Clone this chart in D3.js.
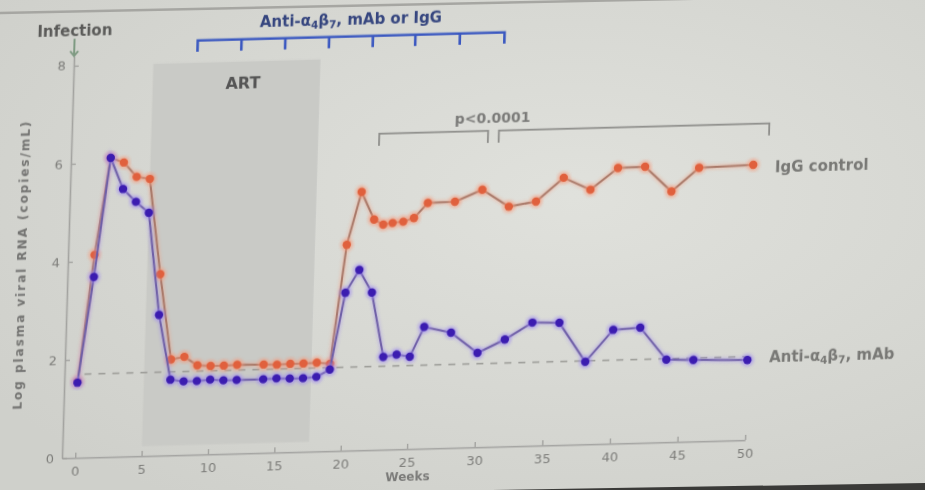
<!DOCTYPE html>
<html>
<head>
<meta charset="utf-8">
<script src="https://cdn.jsdelivr.net/npm/d3@7"></script>
<style>
  body { margin: 0; background: #d8d9d4; }
  svg { display: block; font-family: "DejaVu Sans", "Liberation Sans", sans-serif; }
</style>
</head>
<body>
<svg id="chart" width="925" height="490"></svg>
<script>
// weeks after infection, log10 plasma viral RNA
const iggWeeks = [0, 1, 2, 3, 4, 5, 6, 7, 8, 9, 10, 11, 12, 14, 15, 16, 17, 18, 19,
  20, 21, 22, 22.7, 23.4, 24.2, 25, 26, 28, 30, 32, 34, 36, 38, 40, 42, 44, 46, 50];
const iggValues = [1.55, 4.13, 6.1, 6.0, 5.7, 5.65, 3.7, 1.95, 2.0, 1.82, 1.8, 1.8, 1.81, 1.8, 1.79, 1.8, 1.8, 1.81, 1.78,
  4.2, 5.27, 4.7, 4.59, 4.62, 4.64, 4.71, 5.01, 5.02, 5.25, 4.89, 4.98, 5.45, 5.19, 5.62, 5.63, 5.11, 5.58, 5.61];

const mabWeeks = [0, 1, 2, 3, 4, 5, 6, 7, 8, 9, 10, 11, 12, 14, 15, 16, 17, 18, 19,
  20, 21, 22, 23, 24, 25, 26, 28, 30, 32, 34, 36, 38, 40, 42, 44, 46, 50];
const mabValues = [1.53, 3.68, 6.1, 5.46, 5.19, 4.96, 2.87, 1.54, 1.5, 1.5, 1.52, 1.5, 1.5, 1.5, 1.51, 1.5, 1.5, 1.52, 1.66,
  3.22, 3.68, 3.21, 1.89, 1.93, 1.88, 2.48, 2.35, 1.92, 2.18, 2.51, 2.49, 1.68, 2.32, 2.35, 1.68, 1.66, 1.63];

const detectionLimit = 1.7;
const artPeriod = [5, 17.6];
const infusionWeeks = [8.3, 11.6, 14.9, 18.2, 21.5, 24.7, 28, 31.3];
const pBrackets = [[22.2, 30.3], [31.1, 51.1]];

const weekTicks = [0, 5, 10, 15, 20, 25, 30, 35, 40, 45, 50];
const valueTicks = [0, 2, 4, 6, 8];

const svg = d3.select("#chart");
const defs = svg.append("defs");

// photo look: uneven light
const bg = defs.append("radialGradient").attr("id", "bg").attr("cx", "62%").attr("cy", "40%").attr("r", "75%");
bg.append("stop").attr("offset", "0%").attr("stop-color", "#e0e1dc");
bg.append("stop").attr("offset", "100%").attr("stop-color", "#cfd0cb");
defs.append("filter").attr("id", "soft").append("feGaussianBlur").attr("stdDeviation", 0.75);
defs.append("filter").attr("id", "glow")
  .attr("x", "-10%").attr("y", "-10%").attr("width", "120%").attr("height", "120%")
  .append("feGaussianBlur").attr("stdDeviation", 1.8);

svg.append("rect").attr("width", 925).attr("height", 490).attr("fill", "url(#bg)");
svg.append("path").attr("d", "M0,13 L925,-6").attr("stroke", "#a6a6a2").attr("stroke-width", 2.5).attr("fill", "none");
svg.append("path").attr("d", "M430,491 L925,483 L925,491 Z").attr("fill", "#3a3a38");

// the slide was photographed at an angle: shear the plot, and the week axis
// is a little stretched on the right
const plot = svg.append("g")
  .attr("transform", "matrix(1,-0.0265,-0.03,1,62,458)")
  .attr("filter", "url(#soft)");

const x = d3.scaleLinear().domain([-1, 0, 25, 50]).range([0, 13.2, 345, 683]);
const y = d3.scaleLinear().domain([0, 8.2]).range([0, -402]);

// ART shading
plot.append("rect")
  .attr("x", x(artPeriod[0]))
  .attr("y", y(8.0))
  .attr("width", x(artPeriod[1]) - x(artPeriod[0]))
  .attr("height", y(0.2) - y(8.0))
  .attr("fill", "#c9cac6");

plot.append("text")
  .attr("x", x(11.8)).attr("y", y(7.55))
  .attr("text-anchor", "middle").attr("dy", "0.35em")
  .attr("font-size", 16).attr("font-weight", "bold").attr("fill", "#555")
  .text("ART");

// axes
const xAxis = plot.append("g")
  .call(d3.axisBottom(x).tickValues(weekTicks).tickSizeInner(-5).tickSizeOuter(0).tickPadding(9));
const yAxis = plot.append("g")
  .call(d3.axisLeft(y).tickValues(valueTicks).tickSizeInner(-5).tickSizeOuter(0).tickPadding(8));
[xAxis, yAxis].forEach(a => {
  a.select(".domain").attr("stroke", "#a3a3a0").attr("stroke-width", 1.6);
  a.selectAll(".tick line").attr("stroke", "#a3a3a0").attr("stroke-width", 1.4);
  a.selectAll(".tick text").attr("fill", "#7d7d7a").attr("font-size", 13).attr("font-family", "DejaVu Sans");
});

plot.append("text")
  .attr("x", x(25.1)).attr("y", 32)
  .attr("text-anchor", "middle")
  .attr("font-size", 12).attr("font-weight", "bold").attr("fill", "#7a7a78")
  .text("Weeks");

plot.append("text")
  .attr("transform", `translate(-42,${y(3.95)}) rotate(-90)`)
  .attr("text-anchor", "middle")
  .attr("font-size", 12).attr("font-weight", "bold").attr("fill", "#727270")
  .attr("textLength", 288).attr("lengthAdjust", "spacing")
  .text("Log plasma viral RNA (copies/mL)");

// infection marker
plot.append("text")
  .attr("x", x(-1)).attr("y", y(8.72))
  .attr("text-anchor", "middle").attr("dy", "0.35em")
  .attr("font-size", 15).attr("font-weight", "bold").attr("fill", "#5a5a58")
  .text("Infection");
plot.append("path")
  .attr("d", `M${x(-1)},${y(8.55)} L${x(-1)},${y(8.2)} M${x(-1) - 4},${y(8.3)} L${x(-1)},${y(8.2)} L${x(-1) + 4},${y(8.3)}`)
  .attr("stroke", "#7e9a82").attr("stroke-width", 2).attr("fill", "none");

// infusion bracket
const infY = y(8.45), infTick = y(8.22);
plot.append("path")
  .attr("d", `M${x(infusionWeeks[0])},${infTick} L${x(infusionWeeks[0])},${infY} L${x(infusionWeeks[infusionWeeks.length - 1])},${infY} L${x(infusionWeeks[infusionWeeks.length - 1])},${infTick}`)
  .attr("stroke", "#3a58c0").attr("stroke-width", 2.6).attr("fill", "none");
plot.selectAll(".inf").data(infusionWeeks.slice(1, -1)).enter().append("line")
  .attr("x1", d => x(d)).attr("x2", d => x(d))
  .attr("y1", infY).attr("y2", infTick)
  .attr("stroke", "#3a58c0").attr("stroke-width", 2.6);

function antiLabel(sel, tail) {
  sel.append("tspan").text("Anti-α");
  sel.append("tspan").attr("font-size", "0.7em").attr("dy", "0.25em").text("4");
  sel.append("tspan").attr("dy", "-0.18em").text("β");
  sel.append("tspan").attr("font-size", "0.7em").attr("dy", "0.25em").text("7");
  sel.append("tspan").attr("dy", "-0.18em").text(tail);
}

plot.append("text")
  .attr("x", x(19.8)).attr("y", y(8.72))
  .attr("text-anchor", "middle").attr("dy", "0.1em")
  .attr("font-size", 15).attr("font-weight", "bold").attr("fill", "#34447e")
  .call(antiLabel, ", mAb or IgG");

// p-value brackets
const pY = y(6.45), pLeg = y(6.2);
plot.selectAll(".pb").data(pBrackets).enter().append("path")
  .attr("d", d => `M${x(d[0])},${pLeg} L${x(d[0])},${pY} L${x(d[1])},${pY} L${x(d[1])},${pLeg}`)
  .attr("stroke", "#8e8e8b").attr("stroke-width", 1.8).attr("fill", "none");
plot.append("text")
  .attr("x", x(30.6)).attr("y", y(6.72))
  .attr("text-anchor", "middle").attr("dy", "0.35em")
  .attr("font-size", 14).attr("font-weight", "bold").attr("fill", "#7a7a78")
  .text("p<0.0001");

// detection limit
plot.append("line")
  .attr("x1", x(0.5)).attr("x2", x(50))
  .attr("y1", y(detectionLimit)).attr("y2", y(detectionLimit))
  .attr("stroke", "#9a9a96").attr("stroke-width", 1.6).attr("stroke-dasharray", "7,7");

const series = [
  { weeks: iggWeeks, values: iggValues, line: "#a87868", dot: "#e0603c", halo: "#f59a7c" },
  { weeks: mabWeeks, values: mabValues, line: "#6e5ea6", dot: "#3b1db0", halo: "#9c88f0" }
];

const line = d3.line().x(d => x(d[0])).y(d => y(d[1]));

series.forEach(s => {
  const pts = s.weeks.map((w, i) => [w, s.values[i]]);
  plot.append("path").datum(pts)
    .attr("d", line)
    .attr("fill", "none").attr("stroke", s.halo).attr("stroke-width", 5).attr("opacity", 0.35)
    .attr("filter", "url(#glow)");
  plot.append("path").datum(pts)
    .attr("d", line)
    .attr("fill", "none").attr("stroke", s.line).attr("stroke-width", 2);
  plot.selectAll(null).data(pts).enter().append("circle")
    .attr("cx", d => x(d[0])).attr("cy", d => y(d[1])).attr("r", 6.5)
    .attr("fill", s.halo).attr("opacity", 0.55).attr("filter", "url(#glow)");
  plot.selectAll(null).data(pts).enter().append("circle")
    .attr("cx", d => x(d[0])).attr("cy", d => y(d[1])).attr("r", 4.2)
    .attr("fill", s.dot);
});

// series labels
plot.append("text")
  .attr("x", x(51.6)).attr("y", y(5.55)).attr("dy", "0.35em")
  .attr("font-size", 15).attr("font-weight", "bold").attr("fill", "#787875")
  .text("IgG control");
plot.append("text")
  .attr("x", x(51.6)).attr("y", y(1.68)).attr("dy", "0.35em")
  .attr("font-size", 15).attr("font-weight", "bold").attr("fill", "#787875")
  .call(antiLabel, ", mAb");
</script>
</body>
</html>
